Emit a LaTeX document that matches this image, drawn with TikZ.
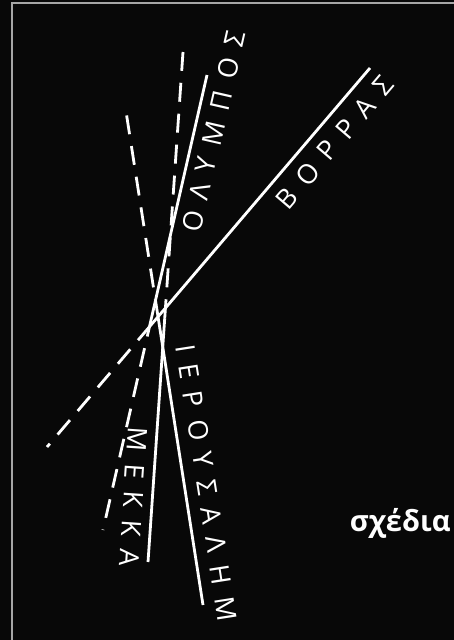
\documentclass[tikz,border=0pt]{standalone}
\usepackage{fontspec}
\setmainfont{Open Sans}
\newfontfamily\placefont[LetterSpace=46]{Open Sans}
\newfontfamily\notefont{Open Sans}
\usetikzlibrary{calc}

\begin{document}
\begin{tikzpicture}[x=1pt, y=-1pt, line width=2.8pt, white,
  every node/.style={inner sep=0pt, font=\placefont\fontsize{27}{27}\selectfont},
  ext/.style={dash pattern=on 19pt off 12pt}]
  \fill[black!97] (0,0) rectangle (454,640);
  \useasboundingbox (0,0) rectangle (454,640);
  \clip (0,0) rectangle (454,640);
  \draw[gray!70, line width=2pt] (12,3) rectangle (480,680);

  % ends of the four directions
  \coordinate (N1) at (370,68);
  \coordinate (N2) at (47,447);
  \coordinate (O1) at (207,75);
  \coordinate (O2) at (103,530);
  \coordinate (M1) at (148,562);
  \coordinate (M2) at (183,52);
  \coordinate (J1) at (203,605);
  \coordinate (J2) at (125,105);
  % where solid turns into dashed (near the crossing)
  \coordinate (Nm) at ($(N1)!0.68!(N2)$);
  \coordinate (Om) at ($(O1)!0.534!(O2)$);
  \coordinate (Mm) at ($(M1)!0.478!(M2)$);
  \coordinate (Jm) at ($(J1)!0.574!(J2)$);

  \draw (N1) -- (Nm);
  \draw[ext] (Nm) -- (N2);
  \draw (O1) -- (Om);
  \draw[ext] (Om) -- (O2);
  \draw (M1) -- (Mm);
  \draw[ext] (Mm) -- (M2);
  \draw (J1) -- (Jm);
  \draw[ext] (Jm) -- (J2);

  \path (N2) -- (N1) node[pos=0.84, sloped, below=10pt] (borras) {ΒΟΡΡΑΣ};
  \path (O2) -- (O1) node[pos=0.886, sloped, below=8pt] (olympos) {ΟΛΥΜΠΟΣ};
  \path (J2) -- (J1) node[pos=0.762, sloped, above=11pt] (ierousalim) {ΙΕΡΟΥΣΑΛΗΜ};
  \path (M2) -- (M1) node[pos=0.875, sloped, allow upside down, below=8pt] (mekka) {ΜΕΚΚΑ};

  \node[font=\notefont\bfseries\fontsize{29}{29}\selectfont, anchor=base east] (sxedia) at (452,531) {σχέδια};
\end{tikzpicture}
\end{document}
